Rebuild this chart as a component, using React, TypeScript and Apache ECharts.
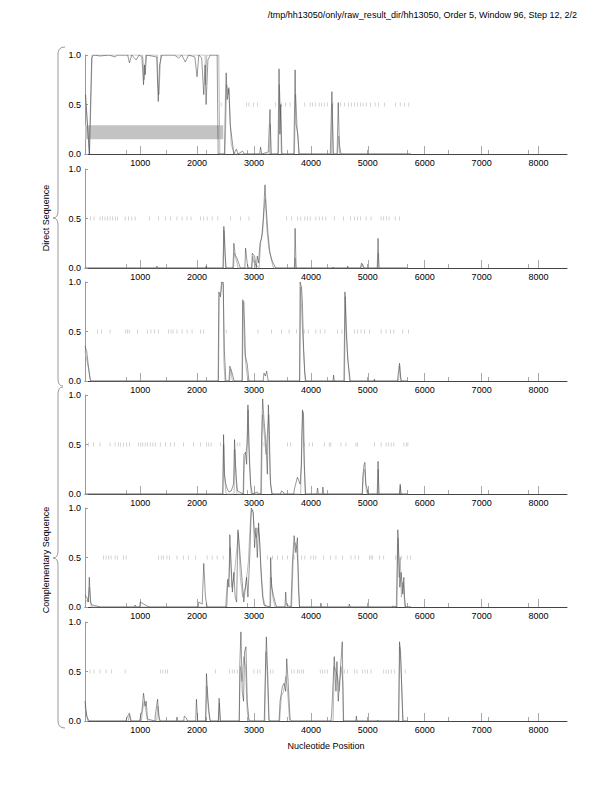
import React, { useEffect, useRef } from "react";
import * as echarts from "echarts";

const titleText = "/tmp/hh13050/only/raw_result_dir/hh13050, Order 5, Window 96, Step 12, 2/2";
const xName = "Nucleotide Position";
const groupNames = ["Direct Sequence", "Complementary Sequence"];
const majorTicks = [1000, 2000, 3000, 4000, 5000, 6000, 7000, 8000];
const minorTicks = [753, 1460, 2166, 2873, 3580, 4286, 4993, 5700, 6406, 7113, 7820];
const yTicks = [0, 0.5, 1];
const band1 = { x0: 30, x1: 2460, y0: 0.15, y1: 0.29 };

const p1Black = [[40,0.6],[106,0],[147,0.97],[176,1.0],[300,0.99],[450,1.0],[559,0.98],[600,1.0],[780,1.0],[811,0.92],[850,1.0],[929,0.95],[980,1.0],[1030,0.98],[1058,0.7],[1075,0.9],[1088,0.8],[1110,1.0],[1290,0.98],[1317,0.53],[1340,0.9],[1382,1.0],[1600,1.0],[1676,0.97],[1730,1.0],[1793,0.93],[1850,1.0],[1960,0.98],[1999,0.78],[2030,1.0],[2080,0.97],[2117,0.6],[2140,0.9],[2158,0.5],[2190,0.95],[2234,1.0],[2352,1.0],[2370,0],[2480,0],[2500,0.6],[2511,0.82],[2530,0.55],[2558,0.67],[2580,0.3],[2646,0],[2690,0.05],[2720,0],[2800,0.03],[2830,0],[3100,0],[3115,0.07],[3135,0],[3250,0.02],[3281,0.45],[3300,0],[3420,0],[3440,0.86],[3455,0.2],[3470,0.5],[3490,0],[3700,0],[3722,0.85],[3740,0.3],[3770,0.2],[3793,0],[4340,0],[4369,0.63],[4390,0],[4460,0],[4480,0.52],[4500,0.1],[4528,0],[5760,0]];
const p1Gray = [[40,0.55],[110,0],[155,1.0],[1040,1.0],[1050,0.95],[1070,0.75],[1100,1.0],[1300,1.0],[1310,0.7],[1330,0.6],[1360,1.0],[2140,1.0],[2150,0.7],[2170,1.0],[2380,1.0],[2400,0],[2490,0],[2520,0.7],[2545,0.6],[2560,0.65],[2600,0.1],[2650,0],[3270,0],[3285,0.3],[3300,0],[3430,0],[3445,0.7],[3465,0.45],[3480,0],[3710,0],[3730,0.6],[3760,0.25],[3790,0],[4360,0],[4375,0.5],[4395,0],[4470,0],[4488,0.18],[4505,0],[5760,0]];
const p1Ticks = [2423,2870,2911,2987,3058,3382,3481,3558,3634,3893,3987,4028,4075,4145,4187,4234,4292,4386,4516,4586,4657,4716,4763,4822,4869,4916,4974,5045,5127,5186,5292,5486,5569,5645,5721];

const p2Black = [[30,0],[1280,0],[1293,0.02],[1310,0],[2150,0],[2158,0.02],[2170,0],[2455,0],[2470,0.42],[2490,0.15],[2510,0],[2630,0],[2646,0.25],[2670,0.13],[2700,0.1],[2730,0.05],[2760,0],[2840,0],[2852,0.2],[2880,0.05],[2900,0],[2960,0],[2970,0.15],[3010,0.12],[3040,0],[3058,0.12],[3080,0.05],[3105,0.25],[3134,0.3],[3163,0.5],[3193,0.84],[3215,0.6],[3245,0.35],[3280,0.15],[3320,0.07],[3380,0],[3710,0],[3722,0.4],[3740,0],[4380,0],[4392,0.01],[4400,0],[4640,0],[4645,0.02],[4660,0],[4870,0],[4890,0.05],[4916,0.03],[4930,0],[5165,0],[5180,0.3],[5195,0],[5700,0]];
const p2Gray = [[30,0],[2460,0],[2472,0.38],[2485,0.3],[2500,0],[2640,0],[2655,0.15],[2690,0.08],[2720,0],[2960,0],[2980,0.12],[3000,0.05],[3090,0],[3120,0.28],[3150,0.35],[3180,0.6],[3200,0.7],[3225,0.4],[3260,0.2],[3300,0.1],[3340,0],[3715,0],[3725,0.1],[3735,0],[4880,0],[4900,0.04],[4920,0],[5170,0],[5185,0.15],[5195,0],[5700,0]];
const p2Ticks = [129,188,294,341,382,423,470,517,564,600,735,794,853,911,1164,1323,1441,1529,1646,1735,1823,1893,2058,2117,2176,2264,2364,2587,2764,2911,3575,3657,3763,3822,3893,3940,3987,4087,4145,4204,4263,4410,4575,4692,4763,4822,4869,4969,5057,5233,5280,5327,5374,5480,5557];

const p3Black = [[30,0.35],[60,0.3],[90,0.15],[118,0.02],[140,0],[2370,0],[2381,0.9],[2411,0.85],[2429,1.0],[2458,1.0],[2480,0.3],[2505,0],[2560,0],[2575,0.15],[2605,0.1],[2630,0.05],[2650,0],[2790,0],[2800,0.82],[2822,0.8],[2850,0.25],[2881,0.17],[2910,0],[3160,0],[3175,0.08],[3200,0.05],[3222,0.1],[3250,0],[3800,0],[3810,1.0],[3834,0.95],[3850,0.8],[3870,0.35],[3890,0.1],[3910,0],[4390,0],[4398,0.06],[4410,0],[4580,0],[4598,0.9],[4620,0.5],[4650,0.2],[4692,0],[5110,0],[5116,0.02],[5125,0],[5520,0],[5535,0.08],[5557,0.18],[5575,0.05],[5590,0],[5700,0]];
const p3Gray = [[30,0.3],[100,0.1],[130,0],[2375,0],[2390,0.85],[2420,0.9],[2440,1.0],[2460,0.98],[2470,0.2],[2490,0],[2570,0],[2590,0.12],[2620,0],[2795,0],[2810,0.8],[2835,0.3],[2870,0.1],[2895,0],[3805,0],[3820,0.95],[3845,0.6],[3880,0.2],[3900,0],[4590,0],[4605,0.85],[4640,0.3],[4680,0],[5540,0],[5560,0.15],[5580,0],[5700,0]];
const p3Ticks = [247,323,470,747,776,806,953,1129,1188,1247,1323,1499,1541,1576,1646,1735,1823,1911,2058,2117,2511,3070,3305,3481,3616,3746,3881,3951,4087,4163,4246,4469,4545,4763,4822,4881,4939,5027,5233,5321,5398,5457,5615,5715];

const p4Black = [[30,0],[2450,0],[2465,0.6],[2480,0.2],[2505,0.1],[2530,0.05],[2560,0.02],[2600,0.03],[2640,0.1],[2658,0.55],[2675,0.3],[2690,0.15],[2710,0.03],[2810,0],[2822,0.4],[2852,0.42],[2870,0.3],[2893,0.9],[2910,0.5],[2940,0.1],[2970,0],[3058,0.02],[3080,0],[3120,0],[3134,0.6],[3152,0.96],[3175,0.75],[3205,0.55],[3235,0.2],[3252,0.9],[3270,0.6],[3290,0.1],[3320,0],[3470,0],[3481,0.03],[3515,0.02],[3530,0],[3700,0],[3710,0.05],[3763,0.17],[3810,0.1],[3834,0.3],[3851,0.85],[3870,0.8],[3885,0.3],[3905,0],[4105,0],[4116,0.06],[4130,0],[4200,0],[4210,0.07],[4225,0],[4900,0],[4916,0.2],[4935,0.3],[4950,0.32],[4965,0.1],[4990,0.05],[5010,0],[5165,0],[5180,0.33],[5195,0],[5555,0],[5569,0.1],[5580,0],[5700,0]];
const p4Gray = [[30,0],[2455,0],[2468,0.5],[2485,0.15],[2510,0],[2650,0],[2662,0.45],[2680,0.2],[2700,0],[2815,0],[2835,0.35],[2880,0.5],[2898,0.85],[2920,0.3],[2950,0],[3130,0],[3150,0.8],[3180,0.6],[3210,0.4],[3245,0.7],[3260,0.8],[3280,0.2],[3310,0],[3820,0],[3840,0.6],[3858,0.83],[3875,0.4],[3900,0],[4905,0],[4920,0.19],[4945,0.25],[4970,0.05],[4990,0],[5170,0],[5183,0.25],[5195,0],[5560,0],[5572,0.08],[5585,0],[5700,0]];
const p4Ticks = [88,176,294,470,558,617,658,705,764,811,970,1011,1046,1088,1129,1176,1223,1264,1352,1441,1529,1599,1764,1940,2058,2164,2205,2246,2411,2705,2752,3175,3587,3646,3881,3969,4028,4234,4322,4351,4528,4616,4792,4822,5116,5233,5321,5362,5410,5457,5633,5674,5704];

const p5Black = [[30,0.12],[60,0.1],[90,0.05],[106,0.3],[125,0.05],[150,0.02],[240,0.01],[300,0],[900,0],[911,0.02],[930,0],[990,0],[1000,0.05],[1060,0.03],[1120,0.01],[1170,0],[2020,0],[2029,0.05],[2090,0.03],[2117,0.44],[2147,0.1],[2176,0],[2520,0],[2540,0.28],[2560,0.2],[2575,0.73],[2600,0.4],[2620,0.15],[2645,0.35],[2670,0.1],[2695,0.05],[2717,0.78],[2745,0.6],[2775,0.38],[2800,0.2],[2820,0.05],[2870,0.3],[2893,0.1],[2928,0.55],[2952,1.0],[2987,0.95],[3010,0.6],[3034,0.8],[3058,0.5],[3081,0.85],[3105,0.6],[3128,0.3],[3152,0.1],[3175,0.02],[3280,0],[3293,0.5],[3310,0.2],[3340,0.12],[3380,0.03],[3400,0],[3545,0],[3557,0.15],[3570,0.02],[3650,0],[3675,0.45],[3705,0.72],[3735,0.55],[3763,0.7],[3780,0.2],[3800,0],[4165,0],[4175,0.04],[4190,0],[4665,0],[4675,0.03],[4690,0],[5430,0],[5439,0.01],[5510,0],[5527,0.78],[5545,0.5],[5562,0.2],[5586,0.35],[5615,0.13],[5633,0.3],[5645,0.1],[5663,0],[5760,0]];
const p5Gray = [[30,0.08],[80,0.05],[110,0.2],[140,0],[2500,0],[2530,0.25],[2560,0.3],[2580,0.6],[2610,0.2],[2650,0.3],[2700,0.6],[2725,0.75],[2760,0.3],[2800,0.1],[2850,0.2],[2900,0.45],[2930,0.8],[2950,0.97],[2980,0.98],[3010,0.75],[3040,0.7],[3070,0.8],[3095,0.7],[3120,0.4],[3160,0.1],[3200,0],[3290,0],[3300,0.3],[3330,0.1],[3370,0],[3660,0],[3690,0.5],[3720,0.65],[3750,0.6],[3775,0.4],[3800,0],[5500,0],[5520,0.6],[5535,0.7],[5550,0.3],[5570,0.5],[5590,0.1],[5610,0.25],[5630,0.2],[5650,0],[5760,0]];
const p5Ticks = [353,400,441,488,559,600,706,753,1323,1370,1411,1470,1517,1646,1764,1852,1970,2176,2264,2352,2458,3234,3322,3410,3499,3587,3705,3763,3834,3893,3999,4046,4087,4222,4340,4440,4557,4704,4775,4834,5027,5057,5086,5204,5280,5486,5527,5586,5692,5751];

const p6Black = [[30,0.2],[60,0.05],[90,0.01],[120,0],[750,0],[764,0.03],[811,0.08],[840,0],[990,0],[1000,0.03],[1030,0.1],[1058,0.28],[1088,0.15],[1105,0.2],[1128,0.02],[1260,0],[1264,0.05],[1305,0.22],[1329,0.05],[1350,0],[1635,0],[1646,0.04],[1660,0],[1765,0],[1776,0.05],[1811,0.03],[1830,0],[1975,0],[1988,0.22],[2010,0],[2150,0],[2164,0.48],[2193,0.2],[2223,0.02],[2240,0],[2375,0],[2387,0.23],[2410,0],[2740,0],[2752,0.6],[2770,0.9],[2793,0.3],[2816,0.2],[2834,0.7],[2858,0.75],[2881,0.2],[2910,0.02],[2930,0],[3180,0],[3193,0.35],[3217,0.85],[3240,0.5],[3264,0.02],[3280,0],[3440,0],[3458,0.2],[3499,0.35],[3528,0.38],[3557,0.3],[3575,0.63],[3599,0.4],[3634,0.02],[3660,0],[4350,0],[4363,0.05],[4410,0.65],[4440,0.3],[4457,0.6],[4480,0.2],[4528,0.6],[4551,0.8],[4570,0],[4790,0],[4798,0.05],[4810,0],[5160,0],[5175,0.01],[5190,0],[5540,0],[5557,0.8],[5575,0.7],[5598,0.3],[5615,0],[5700,0]];
const p6Gray = [[30,0.15],[80,0],[790,0],[811,0.06],[830,0],[1020,0],[1045,0.12],[1070,0.2],[1100,0.1],[1130,0],[1290,0],[1310,0.15],[1335,0],[2150,0],[2170,0.35],[2200,0.1],[2230,0],[2370,0],[2390,0.18],[2405,0],[2740,0],[2760,0.55],[2790,0.4],[2820,0.65],[2850,0.55],[2880,0.1],[2905,0],[3190,0],[3210,0.7],[3235,0.45],[3260,0],[3450,0],[3480,0.25],[3520,0.3],[3560,0.45],[3590,0.3],[3625,0],[4390,0],[4410,0.55],[4440,0.5],[4470,0.45],[4500,0.3],[4530,0.55],[4560,0.4],[4575,0],[5545,0],[5560,0.75],[5580,0.6],[5605,0.2],[5620,0],[5700,0]];
const p6Ticks = [118,188,294,400,500,735,1352,1399,1441,1482,2323,2570,2617,2658,2705,2999,3058,3105,3293,3334,3657,3704,3763,3793,3840,3869,4163,4204,4246,4292,4528,4586,4645,4763,4810,4910,4951,4998,5057,5280,5321,5362,5410,5468,5656];

const panels = [
  { black: p1Black, gray: p1Gray, ticks: p1Ticks },
  { black: p2Black, gray: p2Gray, ticks: p2Ticks },
  { black: p3Black, gray: p3Gray, ticks: p3Ticks },
  { black: p4Black, gray: p4Gray, ticks: p4Ticks },
  { black: p5Black, gray: p5Gray, ticks: p5Ticks },
  { black: p6Black, gray: p6Gray, ticks: p6Ticks },
];

const FONT = "'Liberation Sans', Arial, Helvetica, sans-serif";
const X_MIN = 30;
const X_MAX = 8500;
const GRID_LEFT = 85;
const GRID_WIDTH = 482;
const GRID_TOPS = [55, 169, 282, 395, 508, 622];
const GRID_H = 99;

function braceElements(yTop: number, yTip: number, yBot: number, topX: number, botX: number) {
  const style = { stroke: "#9a9a9a", lineWidth: 1, fill: "none" };
  const xl = 58;
  const tip = 53;
  return [
    { type: "bezierCurve", shape: { x1: topX, y1: yTop, cpx1: xl, cpy1: yTop, x2: xl, y2: yTop + 7 }, style },
    { type: "line", shape: { x1: xl, y1: yTop + 7, x2: xl, y2: yTip - 7 }, style },
    { type: "bezierCurve", shape: { x1: xl, y1: yTip - 7, cpx1: xl, cpy1: yTip, x2: tip, y2: yTip }, style },
    { type: "bezierCurve", shape: { x1: tip, y1: yTip, cpx1: xl, cpy1: yTip, x2: xl, y2: yTip + 7 }, style },
    { type: "line", shape: { x1: xl, y1: yTip + 7, x2: xl, y2: yBot - 7 }, style },
    { type: "bezierCurve", shape: { x1: xl, y1: yBot - 7, cpx1: xl, cpy1: yBot, x2: botX, y2: yBot }, style },
  ];
}

export default function App() {
  const ref = useRef<HTMLDivElement>(null);
  useEffect(() => {
    if (!ref.current) return;
    const chart = echarts.init(ref.current, undefined, { renderer: "svg" });
    const grid: any[] = [];
    const xAxis: any[] = [];
    const yAxis: any[] = [];
    const series: any[] = [];
    panels.forEach((p, i) => {
      grid.push({ left: GRID_LEFT, top: GRID_TOPS[i], width: GRID_WIDTH, height: GRID_H });
      xAxis.push({
        type: "value", gridIndex: i, min: X_MIN, max: X_MAX, position: "bottom",
        axisLine: { show: true, onZero: false, lineStyle: { color: "#444", width: 1 } },
        axisTick: { show: true, inside: true, length: 8, customValues: majorTicks, lineStyle: { color: "#a8a8a8", width: 1 } },
        axisLabel: { show: true, customValues: majorTicks, fontSize: 9, color: "#000", margin: 4, fontFamily: FONT, formatter: (v: number) => String(v) },
        splitLine: { show: false },
      });
      xAxis.push({
        type: "value", gridIndex: i, min: X_MIN, max: X_MAX, position: "bottom",
        axisLine: { show: false },
        axisTick: { show: true, inside: true, length: 4, customValues: minorTicks, lineStyle: { color: "#a8a8a8", width: 1 } },
        axisLabel: { show: false },
        splitLine: { show: false },
      });
      yAxis.push({
        type: "value", gridIndex: i, min: 0, max: 1, interval: 0.5,
        axisLine: { show: true, lineStyle: { color: "#9a9a9a", width: 1 } },
        axisTick: { show: true, inside: true, length: 3, lineStyle: { color: "#9a9a9a" } },
        axisLabel: { fontSize: 9, color: "#000", margin: 4, fontFamily: FONT, formatter: (v: number) => v.toFixed(1), customValues: yTicks },
        splitLine: { show: false },
      });
      const xi = i * 2;
      if (i === 0) {
        series.push({
          type: "line", xAxisIndex: xi, yAxisIndex: i, data: [], z: 1, silent: true,
          markArea: {
            silent: true,
            itemStyle: { color: "#c3c3c3", opacity: 1 },
            data: [[{ coord: [band1.x0, band1.y0] }, { coord: [band1.x1, band1.y1] }]],
          },
        });
      }
      series.push({
        type: "line", xAxisIndex: xi, yAxisIndex: i, data: p.gray, showSymbol: false, symbol: "none",
        lineStyle: { color: "#ababab", width: 0.8 }, z: 2, silent: true,
      });
      series.push({
        type: "line", xAxisIndex: xi, yAxisIndex: i, data: p.black, showSymbol: false, symbol: "none",
        lineStyle: { color: "#333", width: 0.5 }, z: 3, silent: true,
      });
      series.push({
        type: "scatter", xAxisIndex: xi, yAxisIndex: i, data: p.ticks.map((x) => [x, 0.5]),
        symbol: "rect", symbolSize: [0.6, 4], itemStyle: { color: "#a5a5a5" }, z: 2, silent: true,
      });
    });

    const graphic: any[] = [
      { type: "text", right: 35, top: 10, style: { text: titleText, fill: "#000", font: `9px ${FONT}` } },
      { type: "text", x: GRID_LEFT + GRID_WIDTH / 2, y: 746, style: { text: xName, fill: "#000", font: `9px ${FONT}`, align: "center", verticalAlign: "middle" } },
      { type: "text", x: 46, y: 218, rotation: Math.PI / 2, style: { text: groupNames[0], fill: "#000", font: `9px ${FONT}`, align: "center", verticalAlign: "middle" } },
      { type: "text", x: 46, y: 560, rotation: Math.PI / 2, style: { text: groupNames[1], fill: "#000", font: `9px ${FONT}`, align: "center", verticalAlign: "middle" } },
      ...braceElements(47, 218, 386, 65, 63),
      ...braceElements(387, 558, 728, 63, 65),
    ];

    chart.setOption({
      animation: false,
      backgroundColor: "#fff",
      grid, xAxis, yAxis, series, graphic,
    });
    return () => chart.dispose();
  }, []);
  return <div ref={ref} style={{ position: "absolute", left: 0, top: 0, width: 612, height: 792 }} />;
}
